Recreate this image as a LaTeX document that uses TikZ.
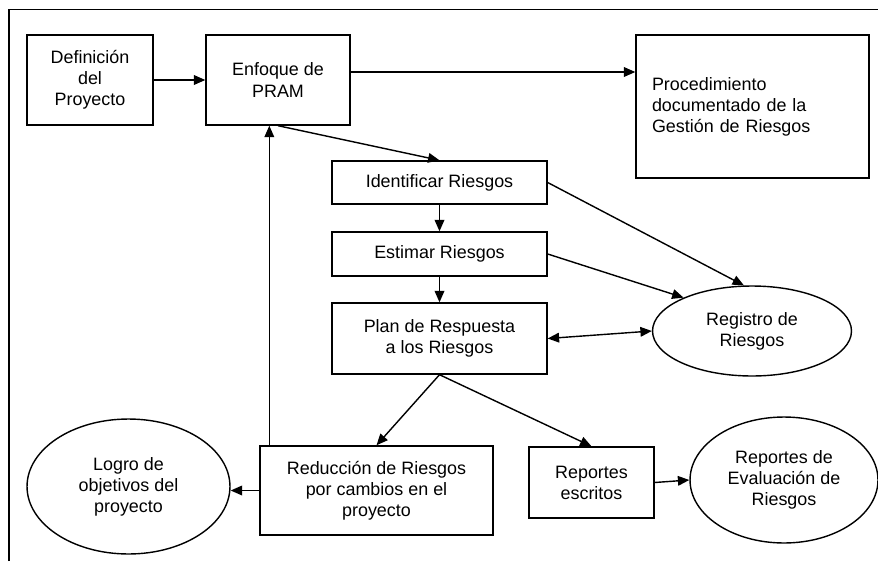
\documentclass[tikz,border=0pt]{standalone}
\usepackage{fontspec}
\setmainfont{Liberation Sans}
\usetikzlibrary{shapes.geometric,arrows.meta}

\begin{document}
\begin{tikzpicture}[x=0.02cm,y=-0.02cm,
  font=\fontsize{10.2}{12}\selectfont,
  caja/.style={draw,line width=0.8pt,align=center,inner sep=0pt},
  elipse/.style={draw,ellipse,line width=0.8pt,align=center,inner sep=0pt},
  flecha/.style={line width=0.8pt,-{Triangle[length=6.5pt,width=5.5pt]}},
  doble/.style={line width=0.8pt,{Triangle[length=6.5pt,width=5.5pt]}-{Triangle[length=6.5pt,width=5.5pt]}}]
  \useasboundingbox (0,0) rectangle (878,561);
  \draw[line width=1.1pt] (9,561)--(9,9.5)--(878,9.5);
  \node[caja,minimum width=2.52cm,minimum height=1.8cm] (def) at (90,80) {Definición\\del\\Proyecto};
  \node[caja,minimum width=2.88cm,minimum height=1.8cm] (enf) at (278,80) {Enfoque de\\PRAM};
  \node[caja,minimum width=4.66cm,minimum height=2.86cm,align=left,text width=4.02cm] (proc) at (752.5,106.5) {Procedimiento\\documentado de la\\Gestión de Riesgos};
  \node[caja,minimum width=4.3cm,minimum height=0.86cm] (ide) at (439.5,182.5) {Identificar Riesgos};
  \node[caja,minimum width=4.3cm,minimum height=0.88cm] (est) at (439.5,254) {Estimar Riesgos};
  \node[caja,minimum width=4.3cm,minimum height=1.42cm] (plan) at (439.5,338.5) {Plan de Respuesta\\a los Riesgos};
  \node[elipse,minimum width=3.98cm,minimum height=1.8cm] (reg) at (752,331) {Registro de\\Riesgos};
  \node[caja,minimum width=4.66cm,minimum height=1.78cm] (red) at (376.5,490.5) {Reducción de Riesgos\\por cambios en el\\proyecto};
  \node[caja,minimum width=2.5cm,minimum height=1.42cm] (rep) at (591.5,482.5) {Reportes\\escritos};
  \node[elipse,minimum width=4.06cm,minimum height=2.7cm] (logro) at (128.5,486.5) {Logro de\\objetivos del\\proyecto};
  \node[elipse,minimum width=3.76cm,minimum height=2.52cm] (eval) at (784,480) {Reportes de\\Evaluación de\\Riesgos};
  \draw[flecha] (def)--(enf);
  \draw[flecha] ([yshift=0.16cm]enf.east)--([yshift=0.16cm]enf.east -| proc.west);
  \draw[flecha] (enf.south)--(ide.north);
  \draw[flecha] (ide)--(est);
  \draw[flecha] (est)--(plan);
  \draw[flecha] (ide.east)--(reg.100);
  \draw[flecha] (est.east)--(reg.154);
  \draw[doble] (plan.east)--(reg.west);
  \draw[flecha] (plan.south)--(red.north);
  \draw[flecha] (plan.south)--(rep.north);
  \draw[flecha] ([xshift=0.2cm]red.north west)--([xshift=0.2cm]red.north west |- enf.south);
  \draw[flecha] (red.west)--(red.west -| logro.east);
  \draw[flecha] (rep.east)--(eval.west);
\end{tikzpicture}
\end{document}
